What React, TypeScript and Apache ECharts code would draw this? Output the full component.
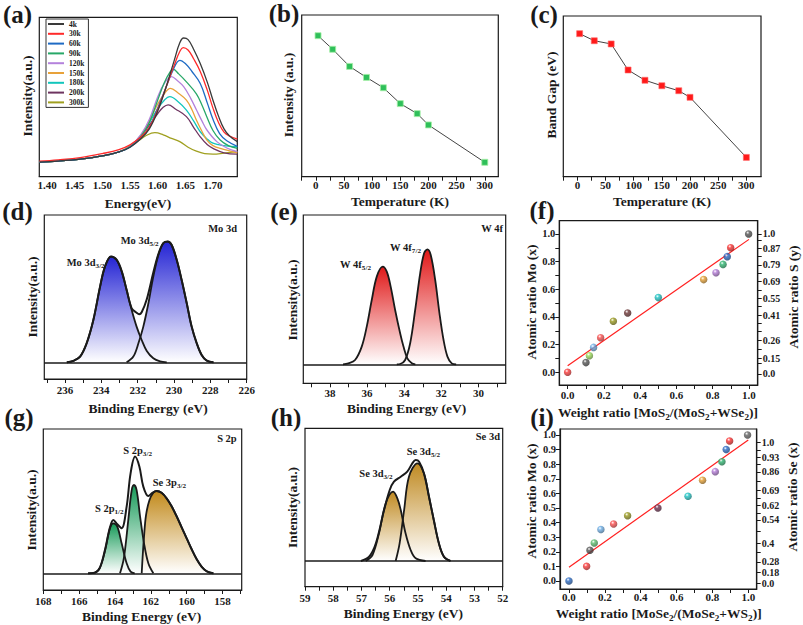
import React, { useEffect, useRef } from "react";
import * as echarts from "echarts";

const FONT = "'Liberation Serif', 'Times New Roman', Times, serif";
const INK = "#1a1a1a";

// ---------------- (a) temperature-dependent PL spectra ----------------
const plNames = ["4k", "30k", "60k", "90k", "120k", "150k", "180k", "200k", "300k"];
const plColors = ["#3a3a3a", "#ff2a2a", "#1f6bc4", "#28a868", "#b482dc", "#e8a23a", "#12c6bc", "#6e3460", "#a0a020"];
const pl4k = [[1.386, 9.2], [1.42, 9.8], [1.46, 11], [1.5, 13], [1.53, 15.5], [1.55, 18.5], [1.57, 24], [1.585, 30], [1.6, 41], [1.615, 56], [1.63, 73], [1.64, 84], [1.647, 87], [1.655, 86], [1.665, 80], [1.677, 71], [1.69, 59], [1.7, 48], [1.71, 38], [1.72, 30], [1.73, 25.5], [1.744, 22]];
const pl30k = [[1.386, 9.8], [1.42, 10.6], [1.46, 12], [1.5, 14.5], [1.53, 17], [1.55, 20], [1.57, 25], [1.585, 31], [1.6, 42], [1.615, 56], [1.63, 70], [1.64, 78.5], [1.646, 81], [1.655, 79.5], [1.665, 74], [1.677, 66], [1.69, 54], [1.7, 43], [1.71, 34], [1.72, 28], [1.73, 25.5], [1.744, 23.5]];
const pl60k = [[1.386, 9.2], [1.42, 9.8], [1.46, 11], [1.5, 13], [1.53, 15.5], [1.55, 18.5], [1.57, 24.5], [1.585, 31], [1.6, 43], [1.615, 56], [1.628, 67], [1.64, 73], [1.65, 71], [1.662, 66], [1.677, 58.5], [1.69, 46], [1.7, 36], [1.712, 27], [1.725, 22.5], [1.744, 19]];
const pl90k = [[1.386, 9.2], [1.42, 9.8], [1.46, 11], [1.5, 13], [1.53, 15.5], [1.55, 18.8], [1.57, 25.5], [1.585, 34], [1.6, 48], [1.612, 59], [1.622, 65.5], [1.628, 67.4], [1.638, 64.5], [1.652, 59.5], [1.67, 52], [1.68, 45], [1.689, 37.5], [1.7, 29], [1.713, 23], [1.728, 19.5], [1.744, 17.8]];
const pl120k = [[1.386, 9.2], [1.42, 9.8], [1.46, 11], [1.5, 13], [1.53, 15.5], [1.55, 19], [1.57, 26.5], [1.585, 36], [1.6, 50], [1.612, 58.5], [1.625, 62.8], [1.635, 60.5], [1.647, 56.5], [1.66, 49], [1.67, 42], [1.68, 35], [1.689, 29.3], [1.707, 22], [1.725, 18], [1.744, 15.7]];
const pl150k = [[1.386, 9.2], [1.42, 9.8], [1.46, 11], [1.5, 13], [1.53, 15.5], [1.55, 19], [1.57, 26], [1.585, 35], [1.6, 45.5], [1.612, 52], [1.623, 55.4], [1.637, 52.5], [1.652, 48], [1.662, 42], [1.67, 35.6], [1.68, 28.5], [1.689, 23], [1.7, 19.5], [1.713, 17.8], [1.744, 15]];
const pl180k = [[1.386, 9.2], [1.42, 9.8], [1.46, 11], [1.5, 13], [1.53, 15.5], [1.55, 19], [1.57, 26], [1.585, 34], [1.6, 42.5], [1.612, 48], [1.622, 50.2], [1.637, 47], [1.652, 41.8], [1.665, 35], [1.677, 28.2], [1.69, 23.5], [1.7, 21], [1.72, 19.5], [1.744, 18.8]];
const pl200k = [[1.386, 9.2], [1.42, 9.8], [1.46, 11], [1.5, 13], [1.53, 15.5], [1.55, 19], [1.57, 25.5], [1.585, 32.5], [1.6, 39.5], [1.61, 43.5], [1.619, 45], [1.632, 42.5], [1.652, 37.7], [1.665, 31], [1.677, 25], [1.69, 20], [1.7, 17.8], [1.72, 15], [1.744, 14.2]];
const pl300k = [[1.386, 9.2], [1.42, 9.8], [1.46, 11], [1.5, 13], [1.53, 15.5], [1.55, 19], [1.565, 22.5], [1.58, 26], [1.595, 27.6], [1.61, 26.3], [1.625, 24], [1.64, 22], [1.655, 18.5], [1.67, 16], [1.685, 14.5], [1.7, 14.2], [1.72, 14.8], [1.744, 15.7]];
const plData = [pl4k, pl30k, pl60k, pl90k, pl120k, pl150k, pl180k, pl200k, pl300k];
const energyLabels = [1.4, 1.45, 1.5, 1.55, 1.6, 1.65, 1.7];

// ---------------- (b), (c) ----------------
const temps = [4, 30, 60, 90, 120, 150, 180, 200, 300];
const plIntensity = [87.2, 78.8, 68.2, 61.4, 55, 45.2, 39, 32, 8.9];
const bandGap = [89, 84.6, 82.6, 66.4, 60, 56.6, 53.5, 49.4, 12];
const tempTicks = [-25, 0, 25, 50, 75, 100, 125, 150, 175, 200, 225, 250, 275, 300];
const tempLabels = [0, 50, 100, 150, 200, 250, 300];

// ---------------- (d) Mo 3d ----------------
const mo32 = [[235.9, 0], [235.54, 1.5], [235.17, 5.7], [234.81, 19], [234.44, 42.3], [234.07, 75.7], [233.8, 95.7], [233.47, 105.7], [233.16, 102.3], [232.88, 90.7], [232.61, 72.3], [232.33, 52.3], [232.06, 35.7], [231.78, 22.3], [231.5, 11.3], [231.14, 4], [230.77, 1], [230.4, 0]];
const mo52 = [[232.61, 0], [232.24, 5.7], [231.96, 19], [231.69, 35.7], [231.41, 59], [231.14, 85.7], [230.86, 107.3], [230.59, 119], [230.35, 120.7], [230.13, 117.3], [229.85, 102.3], [229.58, 82.3], [229.3, 59], [229.03, 35.7], [228.75, 19], [228.48, 7.3], [228.2, 1.7], [227.83, 0]];
const moEnv = [[235.9, 0], [235.54, 1.5], [235.17, 5.7], [234.81, 19], [234.44, 42.3], [234.07, 75.7], [233.8, 95.7], [233.47, 105.9], [233.16, 102.6], [232.88, 91.2], [232.61, 72.5], [232.33, 54], [232.06, 49.5], [231.92, 48], [231.78, 50], [231.5, 63], [231.14, 89.7], [230.86, 108.3], [230.59, 119.3], [230.35, 120.8], [230.13, 117.3], [229.85, 102.3], [229.58, 82.3], [229.3, 59], [229.03, 35.7], [228.75, 19], [228.48, 7.3], [228.2, 1.7], [227.83, 0]];
const moTicks = [226, 227, 228, 229, 230, 231, 232, 233, 234, 235, 236, 237];
const moLabels = [226, 228, 230, 232, 234, 236];

// ---------------- (e) W 4f ----------------
const w52 = [[37.3, 0], [37.01, 1], [36.65, 4.3], [36.29, 17.7], [36.02, 37.7], [35.75, 64.3], [35.48, 87.7], [35.16, 97.7], [34.94, 92.7], [34.73, 77.7], [34.49, 54.3], [34.22, 31], [34.04, 17.7], [33.83, 6], [33.59, 1], [33.4, 0]];
const w72 = [[34.4, 0], [34.22, 0.3], [33.95, 4.3], [33.68, 21], [33.41, 54.3], [33.14, 91], [32.93, 111], [32.75, 115], [32.57, 109.3], [32.33, 84.3], [32.1, 51], [31.88, 24.3], [31.67, 7.7], [31.44, 1], [31.2, 0]];
const wTicks = [29, 30, 31, 32, 33, 34, 35, 36, 37, 38, 39];
const wLabels = [30, 32, 34, 36, 38];

// ---------------- (g) S 2p ----------------
const s2p12 = [[165.5, 0], [165.12, 0.7], [164.84, 5.7], [164.56, 22.3], [164.28, 45], [164.09, 50], [163.87, 46.7], [163.63, 30], [163.35, 10], [163.13, 1.7], [162.9, 0]];
const s2p32 = [[163.72, 0], [163.5, 15.7], [163.26, 53], [163.07, 83], [162.94, 88.3], [162.79, 83], [162.6, 56.7], [162.38, 30], [162.14, 10], [161.86, 0]];
const se3p32 = [[162.51, 0], [162.46, 15.7], [162.38, 36.7], [162.27, 58], [162.08, 73], [161.86, 80.5], [161.67, 82.3], [161.4, 80.5], [161.12, 75], [160.84, 67], [160.56, 57], [160.28, 46], [160.0, 35], [159.72, 24], [159.44, 14], [159.16, 6.5], [158.88, 2], [158.51, 0]];
const sEnv = [[165.5, 0], [165.12, 0.7], [164.84, 5.7], [164.56, 23.3], [164.28, 46], [164.09, 53.3], [163.87, 49], [163.63, 45], [163.35, 66.7], [163.13, 100], [162.88, 116.7], [162.64, 106.7], [162.42, 86.7], [162.14, 77.3], [161.9, 80.7], [161.67, 82.3], [161.4, 80.5], [161.12, 75], [160.84, 67], [160.56, 57], [160.28, 46], [160.0, 35], [159.72, 24], [159.44, 14], [159.16, 6.5], [158.88, 2], [158.51, 0]];
const sTicks = [157, 158, 159, 160, 161, 162, 163, 164, 165, 166, 167, 168];
const sLabels = [158, 160, 162, 164, 166, 168];

// ---------------- (h) Se 3d ----------------
const se3d32 = [[56.85, 0], [56.61, 6], [56.38, 27.7], [56.14, 57.7], [55.88, 69.3], [55.73, 62.7], [55.61, 51], [55.44, 27.7], [55.26, 11], [55.08, 2.7], [54.73, 0]];
const se3d52 = [[55.79, 0], [55.65, 17.7], [55.49, 51], [55.32, 84.3], [55.02, 97.7], [54.79, 87.7], [54.61, 64.3], [54.44, 41], [54.26, 17.7], [54.08, 4.3], [53.85, 0]];
const seEnv = [[57.02, 0], [56.73, 4.3], [56.49, 17.7], [56.2, 51], [56.0, 71], [55.85, 79.3], [55.61, 84.3], [55.38, 89.3], [55.2, 97.7], [55.08, 101], [54.96, 99.3], [54.79, 87.7], [54.61, 64.3], [54.44, 41], [54.26, 17.7], [54.08, 4.3], [53.85, 0]];
const seTicks = [52, 52.5, 53, 53.5, 54, 54.5, 55, 55.5, 56, 56.5, 57, 57.5, 58, 58.5, 59];
const seLabels = [52, 53, 54, 55, 56, 57, 58, 59];

// ---------------- (f) MoS2 / WSe2 ----------------
const fWeight = [0, 0.101, 0.12, 0.143, 0.182, 0.252, 0.331, 0.5, 0.75, 0.818, 0.857, 0.88, 0.899, 0.998];
const fMo = [0, 0.07, 0.12, 0.18, 0.25, 0.369, 0.429, 0.54, 0.67, 0.72, 0.78, 0.836, 0.901, 1.0];
const fColors = ["#ff3b3b", "#555555", "#9ee05a", "#6fb0e8", "#ff5050", "#9c9c1e", "#703838", "#1ec8c8", "#e8a232", "#b47ad8", "#2eb872", "#2a6cc8", "#ff3030", "#555555"];
const fFit = [[0, 0.048], [1, 0.961]];
const fRightPos = [1.0, 0.896, 0.776, 0.655, 0.533, 0.414, 0.229, 0.101, -0.012];
const fRightText = ["1.0", "0.87", "0.79", "0.69", "0.55", "0.41", "0.26", "0.15", "0.0"];
const fRightMinor = [0.952, 0.841, 0.716, 0.595, 0.475, 0.355, 0.294, 0.169, 0.065];
const ratioTicks = [0, 0.1, 0.2, 0.3, 0.4, 0.5, 0.6, 0.7, 0.8, 0.9, 1.0];
const ratioLabels = [0, 0.2, 0.4, 0.6, 0.8, 1.0];

// ---------------- (i) MoSe2 / WS2 ----------------
const iWeight = [0, 0.0985, 0.117, 0.141, 0.178, 0.249, 0.327, 0.496, 0.664, 0.745, 0.816, 0.853, 0.877, 0.896, 0.996];
const iMo = [0, 0.1, 0.21, 0.26, 0.352, 0.39, 0.447, 0.5, 0.58, 0.69, 0.749, 0.817, 0.9, 0.959, 1.0];
const iColors = ["#2a6cc8", "#ff3b3b", "#555555", "#5cc070", "#6fb0e8", "#ff5050", "#9c9c1e", "#703050", "#1ec8c8", "#e8a232", "#b47ad8", "#2eb872", "#2a6cc8", "#ff3030", "#666666"];
const iFit = [[0, 0.094], [1, 0.966]];
const iRightPos = [0.947, 0.849, 0.747, 0.623, 0.516, 0.418, 0.258, 0.13, 0.057, -0.016];
const iRightText = ["1.0", "0.93", "0.86", "0.69", "0.62", "0.54", "0.4", "0.28", "0.18", "0.0"];
const iRightMinor = [0.898, 0.798, 0.685, 0.57, 0.467, 0.338, 0.194];
const iLeftLabels = [0, 0.1, 0.2, 0.3, 0.4, 0.5, 0.6, 0.7, 0.8, 0.9, 1.0];

// ---------------- helpers ----------------
function shade(hex: string, f: number) {
  const n = parseInt(hex.slice(1), 16);
  const r = Math.round(((n >> 16) & 255) * f);
  const g = Math.round(((n >> 8) & 255) * f);
  const b = Math.round((n & 255) * f);
  return `rgb(${r},${g},${b})`;
}
function sphere(c: string) {
  return new echarts.graphic.RadialGradient(0.38, 0.32, 0.72, [
    { offset: 0, color: "#ffffff" },
    { offset: 0.3, color: c },
    { offset: 1, color: shade(c, 0.55) },
  ]);
}
const lineStyleAx = { color: INK, width: 1.2 };
const labelBase = { fontFamily: FONT, fontWeight: "bold", fontSize: 11, color: INK, hideOverlap: false };

function xAxis(gridIndex: number, min: number, max: number, ticks: number[] | null, labels: number[], fmt: (v: number) => string, margin: number, inverse = false) {
  return {
    type: "value", gridIndex, min, max, inverse,
    axisLine: { show: true, onZero: false, lineStyle: lineStyleAx },
    axisTick: ticks ? { show: true, inside: false, length: 4, customValues: ticks, lineStyle: { color: INK, width: 1 } } : { show: false },
    axisLabel: { ...labelBase, show: true, margin, customValues: labels, formatter: (v: number) => fmt(v) },
    splitLine: { show: false },
  };
}
function hiddenY(gridIndex: number, min: number, max: number) {
  return { type: "value", gridIndex, min, max, show: false, splitLine: { show: false } };
}
function ratioY(gridIndex: number, min: number, max: number, ticks: number[], labels: number[]) {
  return {
    type: "value", gridIndex, min, max, position: "left",
    axisLine: { show: true, onZero: false, lineStyle: lineStyleAx },
    axisTick: { show: true, inside: false, length: 4, customValues: ticks, lineStyle: { color: INK, width: 1 } },
    axisLabel: { ...labelBase, fontSize: 10.5, margin: 4, customValues: labels, formatter: (v: number) => v.toFixed(1) },
    splitLine: { show: false },
  };
}
function rightY(gridIndex: number, min: number, max: number, pos: number[], text: string[], minor: number[]) {
  return {
    type: "value", gridIndex, min, max, position: "right",
    axisLine: { show: true, onZero: false, lineStyle: lineStyleAx },
    axisTick: { show: true, inside: false, length: 4, customValues: [...pos, ...minor], lineStyle: { color: INK, width: 1 } },
    axisLabel: {
      ...labelBase, fontSize: 10, lineHeight: 10, margin: 5, customValues: pos,
      formatter: (v: number) => {
        const i = pos.findIndex((p) => Math.abs(p - v) < 1e-6);
        return i >= 0 ? text[i] : "";
      },
    },
    splitLine: { show: false },
  };
}
function peak(data: number[][], xi: number, yi: number, color: string) {
  return {
    type: "line", xAxisIndex: xi, yAxisIndex: yi, data, smooth: 0.35, symbol: "none", showSymbol: false,
    lineStyle: { color: INK, width: 1.8 },
    areaStyle: {
      opacity: 1,
      color: new echarts.graphic.LinearGradient(0, 0, 0, 1, [
        { offset: 0, color },
        { offset: 1, color: "#ffffff" },
      ]),
    },
    silent: true,
  };
}
const baseLine = { silent: true, symbol: "none", label: { show: false }, lineStyle: { color: INK, width: 1.6, type: "solid" }, data: [{ yAxis: 0 }] };
function envelope(data: number[][], xi: number, yi: number) {
  return {
    type: "line", xAxisIndex: xi, yAxisIndex: yi, data, smooth: 0.35, symbol: "none", showSymbol: false,
    lineStyle: { color: INK, width: 2 }, silent: true, markLine: baseLine,
  };
}
function scatter(xs: number[], ys: number[], colors: string[], xi: number, yi: number) {
  return {
    type: "scatter", xAxisIndex: xi, yAxisIndex: yi, symbolSize: 7.5, z: 5,
    data: xs.map((x, k) => ({ value: [x, ys[k]], itemStyle: { color: sphere(colors[k]) } })),
  };
}
function fit(data: number[][], xi: number, yi: number) {
  return { type: "line", xAxisIndex: xi, yAxisIndex: yi, data, symbol: "none", showSymbol: false, lineStyle: { color: "#ff2020", width: 1.2 }, z: 3 };
}

const T = (x: number, y: number, text: string, o: any = {}) => ({
  type: "text", x, y, z: 50,
  style: { text, fontFamily: FONT, fontWeight: "bold", fontSize: 13.5, fill: INK, align: "center", verticalAlign: "middle", ...o },
});
const V = (x: number, y: number, text: string) => ({ ...T(x, y, text), rotation: Math.PI / 2 });
const richStyles = (size: number) => ({
  m: { fontFamily: FONT, fontWeight: "bold", fontSize: size, fill: INK, lineHeight: size + 1.5 },
  s: { fontFamily: FONT, fontWeight: "bold", fontSize: size * 0.68, fill: INK, lineHeight: size * 0.68, padding: [size * 0.68, 0, 0, 0] },
});
const Sub = (x: number, y: number, main: string, s: string, size = 10.5) => ({
  type: "text", x, y, z: 50,
  style: { text: `{m|${main}}{s|${s}}`, align: "left", verticalAlign: "middle", rich: richStyles(size) },
});
const RichCenter = (x: number, y: number, text: string) => ({
  type: "text", x, y, z: 50,
  style: { text, align: "center", verticalAlign: "middle", rich: richStyles(13.5) },
});

export default function App() {
  const ref = useRef<HTMLDivElement>(null);
  useEffect(() => {
    if (!ref.current) return;
    const chart = echarts.init(ref.current, undefined, { renderer: "svg" });
    const gridBox = [
      { left: 39.3, top: 17.3, width: 198, height: 159.4 },
      { left: 301.7, top: 15, width: 196.6, height: 161.7 },
      { left: 563.3, top: 16, width: 197.7, height: 160.7 },
      { left: 44.3, top: 215, width: 202.4, height: 164 },
      { left: 303.3, top: 215, width: 202.4, height: 168.3 },
      { left: 559.3, top: 220.7, width: 198.4, height: 164.3 },
      { left: 43.3, top: 429, width: 198.4, height: 161 },
      { left: 305, top: 428.3, width: 197.7, height: 158.4 },
      { left: 560, top: 429, width: 196.7, height: 160 },
    ].map((g) => ({ ...g, show: true, borderColor: INK, borderWidth: 1.2, backgroundColor: "transparent", containLabel: false }));

    const intFmt = (v: number) => String(Math.round(v));
    const xAxes = [
      xAxis(0, 1.386, 1.744, null, energyLabels, (v) => v.toFixed(2), 3),
      xAxis(1, -25, 324, tempTicks, tempLabels, intFmt, 3),
      xAxis(2, -25, 326, tempTicks, tempLabels, intFmt, 3),
      xAxis(3, 226, 237.14, moTicks, moLabels, intFmt, 5, true),
      xAxis(4, 28.53, 39.44, wTicks, wLabels, intFmt, 4, true),
      xAxis(5, -0.046, 1.048, ratioTicks, ratioLabels, (v) => v.toFixed(1), 4),
      xAxis(6, 156.93, 168, sTicks, sLabels, intFmt, 5, true),
      xAxis(7, 52, 59, seTicks, seLabels, intFmt, 6, true),
      xAxis(8, -0.05, 1.047, ratioTicks, ratioLabels, (v) => v.toFixed(1), 2),
    ];
    const yAxes = [
      hiddenY(0, 0, 100),
      hiddenY(1, 0, 100),
      hiddenY(2, 0, 100),
      hiddenY(3, -16.7, 147.3),
      hiddenY(4, -19, 149.3),
      ratioY(5, -0.092, 1.096, ratioTicks, ratioLabels),
      rightY(5, -0.092, 1.096, fRightPos, fRightText, fRightMinor),
      hiddenY(6, -16.7, 144.3),
      hiddenY(7, -25.7, 132.7),
      ratioY(8, -0.055, 1.041, iLeftLabels, iLeftLabels),
      rightY(8, -0.055, 1.041, iRightPos, iRightText, iRightMinor),
    ];

    const series: any[] = [];
    // (a)
    plData.forEach((d, k) => {
      series.push({
        name: plNames[k], type: "line", xAxisIndex: 0, yAxisIndex: 0, data: d, smooth: 0.4,
        symbol: "none", showSymbol: false, color: plColors[k],
        lineStyle: { color: plColors[k], width: 1.3 }, z: 10 - k,
      });
    });
    // (b)
    series.push({
      type: "line", xAxisIndex: 1, yAxisIndex: 1, data: temps.map((t, k) => [t, plIntensity[k]]),
      symbol: "rect", symbolSize: 6, showSymbol: true,
      lineStyle: { color: "#444", width: 1 },
      itemStyle: { color: "#2fbf5a", borderColor: "#a6f0a6", borderWidth: 0.8 },
    });
    // (c)
    series.push({
      type: "line", xAxisIndex: 2, yAxisIndex: 2, data: temps.map((t, k) => [t, bandGap[k]]),
      symbol: "rect", symbolSize: 6, showSymbol: true,
      lineStyle: { color: "#444", width: 1 },
      itemStyle: { color: "#ff1a1a", borderColor: "#ff6a6a", borderWidth: 0.6 },
    });
    // (d)
    series.push(peak(mo32, 3, 3, "#2424d4"));
    series.push(peak(mo52, 3, 3, "#2424d4"));
    series.push(envelope(moEnv, 3, 3));
    // (e)
    series.push(peak(w52, 4, 4, "#e01818"));
    series.push({ ...peak(w72, 4, 4, "#e01818"), markLine: baseLine });
    // (f)
    series.push(fit(fFit, 5, 5));
    series.push(scatter(fWeight, fMo, fColors, 5, 5));
    // (g)
    series.push(peak(s2p12, 6, 7, "#169a58"));
    series.push(peak(s2p32, 6, 7, "#169a58"));
    series.push(peak(se3p32, 6, 7, "#c28a1c"));
    series.push(envelope(sEnv, 6, 7));
    // (h)
    series.push(peak(se3d32, 7, 8, "#c08a22"));
    series.push(peak(se3d52, 7, 8, "#c08a22"));
    series.push(envelope(seEnv, 7, 8));
    // (i)
    series.push(fit(iFit, 8, 9));
    series.push(scatter(iWeight, iMo, iColors, 8, 9));

    const graphics = [
      T(17.5, 14, "(a)", { fontSize: 25 }),
      T(284, 13, "(b)", { fontSize: 25 }),
      T(544, 14, "(c)", { fontSize: 25 }),
      T(17.5, 211, "(d)", { fontSize: 25 }),
      T(284, 211, "(e)", { fontSize: 25 }),
      T(542, 210, "(f)", { fontSize: 25 }),
      T(19, 417, "(g)", { fontSize: 25 }),
      T(286, 417, "(h)", { fontSize: 25 }),
      T(542, 417, "(i)", { fontSize: 25 }),
      // axis names
      T(138, 203, "Energy(eV)"),
      V(27.5, 96, "Intensity(a.u.)"),
      T(400, 201, "Temperature (K)"),
      V(288, 95, "Intensity (a.u.)"),
      T(662, 201, "Temperature (K)"),
      V(551, 95, "Band Gap (eV)"),
      T(148, 408, "Binding Energy (eV)"),
      V(32.5, 297, "Intensity(a.u.)"),
      T(406.7, 408, "Binding Energy (eV)"),
      V(292.5, 300, "Intensity(a.u.)"),
      T(141.7, 616.5, "Binding Energy (eV)"),
      V(31, 510, "Intensity(a.u.)"),
      T(403.3, 613, "Binding Energy (eV)"),
      V(292.5, 507.5, "Intensity(a.u.)"),
      V(531, 302, "Atomic ratio Mo (x)"),
      V(793, 297, "Atomic ratio S (y)"),
      V(531, 501, "Atomic ratio Mo (x)"),
      V(792, 497, "Atomic ratio Se (x)"),
      RichCenter(658, 412, "{m|Weight ratio [MoS}{s|2}{m|/(MoS}{s|2}{m|+WSe}{s|2}{m|)]}"),
      RichCenter(658.7, 613, "{m|Weight ratio [MoSe}{s|2}{m|/(MoSe}{s|2}{m|+WS}{s|2}{m|)]}"),
      // peak annotations
      T(237, 228, "Mo 3d", { fontSize: 10.5, align: "right" }),
      Sub(66.7, 262, "Mo 3d", "3/2"),
      Sub(120.7, 240, "Mo 3d", "5/2"),
      T(503, 228, "W 4f", { fontSize: 10.5, align: "right" }),
      Sub(340, 264.7, "W 4f", "5/2"),
      Sub(390, 247, "W 4f", "7/2"),
      T(236.7, 438, "S 2p", { fontSize: 10.5, align: "right" }),
      Sub(95, 508.3, "S 2p", "1/2"),
      Sub(123.3, 450.3, "S 2p", "3/2"),
      Sub(152.7, 482.8, "Se 3p", "3/2"),
      T(500, 436.7, "Se 3d", { fontSize: 10.5, align: "right" }),
      Sub(359.3, 473.3, "Se 3d", "3/2"),
      Sub(406.7, 451, "Se 3d", "5/2"),
    ];

    chart.setOption({
      animation: false,
      backgroundColor: "#ffffff",
      textStyle: { fontFamily: FONT },
      grid: gridBox,
      xAxis: xAxes,
      yAxis: yAxes,
      legend: {
        data: plNames, orient: "vertical", left: 46, top: 19,
        padding: [1, 4, 1, 2], itemGap: 1.8, itemWidth: 16, itemHeight: 2, itemTextGap: 4,
        icon: "rect", borderColor: "#333", borderWidth: 1, backgroundColor: "#fff",
        textStyle: { fontFamily: FONT, fontWeight: "bold", fontSize: 7.5, color: INK, lineHeight: 8 },
        selectedMode: false,
      },
      series,
      graphic: graphics,
    });
    return () => chart.dispose();
  }, []);
  return <div ref={ref} style={{ position: "absolute", left: 0, top: 0, width: 803, height: 625, background: "#fff" }} />;
}
